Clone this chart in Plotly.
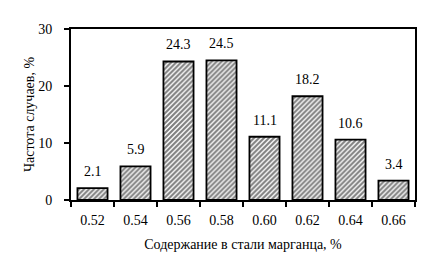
import plotly.graph_objects as go

categories = ["0.52", "0.54", "0.56", "0.58", "0.60", "0.62", "0.64", "0.66"]
values = [2.1, 5.9, 24.3, 24.5, 11.1, 18.2, 10.6, 3.4]
labels = ["2.1", "5.9", "24.3", "24.5", "11.1", "18.2", "10.6", "3.4"]

font_family = "Liberation Serif, Times New Roman, serif"

fig = go.Figure()
fig.add_trace(go.Bar(
    x=categories, y=values, width=0.7,
    marker=dict(color="white", line=dict(color="black", width=1.8),
                pattern=dict(shape="/", size=3.5, solidity=0.6, fgcolor="black", bgcolor="white")),
    showlegend=False, hoverinfo="skip",
))
for i, (v, t) in enumerate(zip(values, labels)):
    fig.add_annotation(x=i, y=v, text=t, showarrow=False, yanchor="bottom", yshift=7,
                       font=dict(family=font_family, size=14, color="black"))

fig.update_layout(
    width=430, height=278,
    margin=dict(l=71, r=15, t=29, b=78),
    paper_bgcolor="white", plot_bgcolor="white",
    font=dict(family=font_family, size=14, color="black"),
)
fig.update_xaxes(
    type="category", showline=True, linecolor="black", linewidth=2, mirror=True,
    ticks="outside", tickson="boundaries", ticklen=5, tickwidth=1.5, tickcolor="black",
    showgrid=False, ticklabelstandoff=6,
    title=dict(text="Содержание в стали марганца, %", standoff=12,
               font=dict(family=font_family, size=14)),
    tickfont=dict(family=font_family, size=14),
)
fig.update_yaxes(
    range=[0, 30], dtick=10, showline=True, linecolor="black", linewidth=2, mirror=True,
    ticks="outside", ticklen=5, tickwidth=1.5, tickcolor="black", showgrid=False, zeroline=False,
    ticklabelstandoff=9,
    title=dict(text="Частота случаев, %", standoff=0,
               font=dict(family=font_family, size=14)),
    tickfont=dict(family=font_family, size=14),
)
fig.write_html("out.html")
